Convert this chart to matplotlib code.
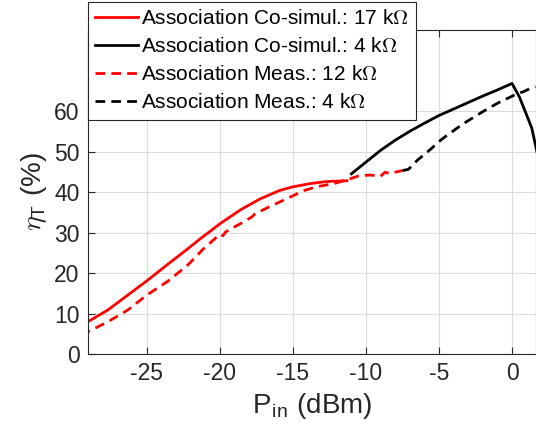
import matplotlib
matplotlib.use("Agg")
import matplotlib.pyplot as plt

plt.rcParams["font.family"] = ["Liberation Sans", "DejaVu Sans"]
plt.rcParams["mathtext.fontset"] = "cm"
plt.rcParams["mathtext.default"] = "it"

# Association Co-simul.: 17 kOhm (red solid)
sim17_x = [-29.5, -29.04, -27.67, -26.3, -25.0, -23.6, -22.2, -21.3, -19.95, -18.6,
           -17.26, -15.9, -15.0, -13.8, -12.7, -11.3]
sim17_y = [7.2, 8.0, 10.9, 14.6, 18.1, 22.1, 26.0, 28.6, 32.3, 35.6,
           38.3, 40.4, 41.3, 42.1, 42.6, 42.8]

# Association Co-simul.: 4 kOhm (black solid)
sim4_x = [-11.0, -10.0, -9.0, -8.0, -7.0, -6.0, -5.0, -4.0, -3.0, -2.0, -1.0, 0.0,
          0.5, 1.0, 1.35, 1.7]
sim4_y = [44.5, 47.4, 50.3, 52.8, 55.0, 57.0, 58.9, 60.5, 62.1, 63.7, 65.2, 66.8,
          63.5, 59.0, 55.8, 50.0]

# Association Meas.: 12 kOhm (red dashed)
meas12_x = [-29.5, -29.04, -27.67, -26.3, -25.0, -23.6, -22.2, -21.1, -20.0, -19.8,
            -19.6, -18.6, -17.8, -17.6, -16.6, -15.4, -14.3, -13.4, -12.2, -11.3,
            -10.5, -9.7, -9.0, -8.7, -8.4, -7.5]
meas12_y = [4.7, 5.5, 8.0, 10.9, 14.6, 17.9, 22.0, 26.1, 29.6, 29.2,
            30.2, 32.2, 33.9, 34.6, 36.4, 38.4, 40.3, 41.3, 42.1, 43.0,
            44.0, 44.2, 43.9, 44.9, 44.6, 45.3]

# Association Meas.: 4 kOhm (black dashed)
meas4_x = [-7.5, -7.1, -6.9, -6.5, -6.0, -5.5, -5.1, -4.6, -4.1, -3.6, -3.1, -2.6,
           -2.2, -1.7, -1.2, -0.7, -0.2, 0.3, 0.8, 1.2, 1.6]
meas4_y = [45.3, 45.6, 46.3, 47.8, 49.3, 50.8, 52.2, 53.6, 54.9, 56.2, 57.4, 58.5,
           59.4, 60.5, 61.5, 62.5, 63.3, 64.2, 64.8, 65.5, 66.0]

xticks = [-25, -20, -15, -10, -5, 0]
yticks = [0, 10, 20, 30, 40, 50, 60]

fig = plt.figure(figsize=(5.36, 4.41), dpi=100)
ax = fig.add_axes([0.164, 0.197, 0.836, 0.735])

dash = (3.5, 2.2)
ax.plot(sim17_x, sim17_y, color="red", lw=2, label=r"Association Co-simul.: 17 k$\Omega$")
ax.plot(sim4_x, sim4_y, color="black", lw=2, label=r"Association Co-simul.: 4 k$\Omega$")
ax.plot(meas12_x, meas12_y, color="red", lw=2, dashes=dash, label=r"Association Meas.: 12 k$\Omega$")
ax.plot(meas4_x, meas4_y, color="black", lw=2, dashes=dash, label=r"Association Meas.: 4 k$\Omega$")

ax.set_xlim(-29.04, 1.64)
ax.set_ylim(0, 80)
ax.set_xticks(xticks)
ax.set_yticks(yticks)
ax.set_xticklabels([str(t) for t in xticks])
ax.grid(True, color="#dcdcdc", lw=0.8)
ax.set_axisbelow(True)
ax.tick_params(direction="in", length=5, labelsize=16.5, colors="#262626",
               top=True, right=False, pad=6)
for s in ax.spines.values():
    s.set_color("#262626")
    s.set_linewidth(0.8)

ax.set_xlabel(r"P$_\mathregular{in}$ (dBm)", fontsize=20, color="#262626", labelpad=4)
ax.set_ylabel(r"$\eta_\mathregular{T}$ (%)", fontsize=20, color="#262626", labelpad=4)

leg = fig.legend(loc="upper left", bbox_to_anchor=(0.164, 0.995), fontsize=15,
                 frameon=True, fancybox=False, edgecolor="#262626", framealpha=1,
                 handlelength=2.05, handletextpad=0.15, labelspacing=0.43,
                 borderpad=0.35, borderaxespad=0)
leg.get_frame().set_linewidth(0.8)

fig.savefig("out.png", dpi=100)
